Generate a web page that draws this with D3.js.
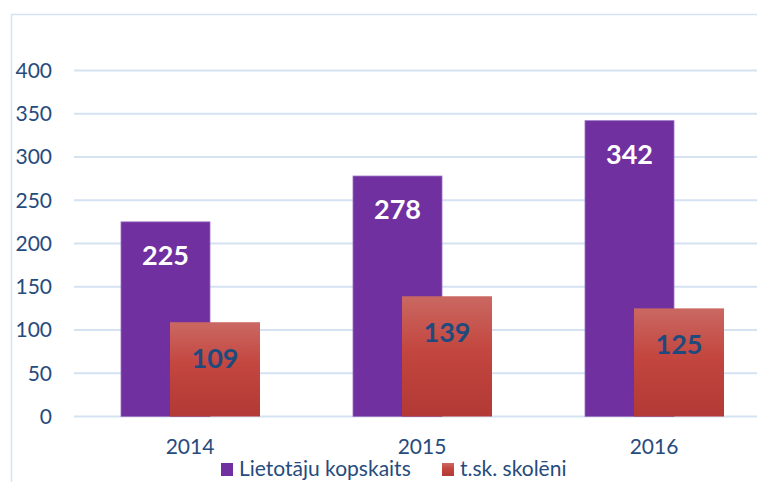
<!DOCTYPE html>
<meta charset="utf-8">
<style>
  body { margin: 0; background: #fff; }
  text { font-family: Lato, "Open Sans", sans-serif; }
</style>
<body>
<svg id="chart" width="757" height="482"></svg>
<script src="https://d3js.org/d3.v7.min.js"></script>
<script>
var years = ["2014", "2015", "2016"];
var total = [225, 278, 342];
var pupils = [109, 139, 125];
var seriesNames = ["Lietotāju kopskaits", "t.sk. skolēni"];
var yTicks = [0, 50, 100, 150, 200, 250, 300, 350, 400];

var svg = d3.select("#chart");
var textColor = "#264b7d";

// outer frame
svg.append("path")
  .attr("d", "M11.5,490 V14.5 H770")
  .attr("fill", "none")
  .attr("stroke", "#d5e2f2")
  .attr("stroke-width", 1.5);

var defs = svg.append("defs");
var grad = defs.append("linearGradient")
  .attr("id", "redGrad").attr("x1", 0).attr("y1", 0).attr("x2", 0).attr("y2", 1);
grad.append("stop").attr("offset", "0%").attr("stop-color", "#ca6862");
grad.append("stop").attr("offset", "45%").attr("stop-color", "#c3463f");
grad.append("stop").attr("offset", "100%").attr("stop-color", "#b23935");

var x = d3.scaleBand().domain(years).range([74, 770]);
var y = d3.scaleLinear().domain([0, 400]).range([416.5, 70.5]);

// gridlines
svg.append("g").selectAll("line")
  .data(yTicks)
  .enter().append("line")
  .attr("x1", 74).attr("x2", 757)
  .attr("y1", function (d) { return y(d); })
  .attr("y2", function (d) { return y(d); })
  .attr("stroke", "#d5e2f2")
  .attr("stroke-width", 2);

// y tick labels
svg.append("g").selectAll("text")
  .data(yTicks)
  .enter().append("text")
  .attr("x", 52)
  .attr("y", function (d) { return y(d); })
  .attr("dy", "0.35em")
  .attr("text-anchor", "end")
  .attr("fill", textColor)
  .style("font-size", "21px")
  .text(function (d) { return d; });

// x labels
svg.append("g").selectAll("text")
  .data(years)
  .enter().append("text")
  .attr("x", function (d) { return x(d) + x.bandwidth() / 2; })
  .attr("y", 447)
  .attr("dy", "0.35em")
  .attr("text-anchor", "middle")
  .attr("fill", textColor)
  .style("font-size", "21px")
  .text(function (d) { return d; });

var barW = 89;
var offs = 49;

// total bars
svg.append("g").selectAll("rect")
  .data(years)
  .enter().append("rect")
  .attr("x", function (d) { return x(d) + x.bandwidth() / 2 - 69; })
  .attr("y", function (d, i) { return y(total[i]); })
  .attr("width", barW)
  .attr("height", function (d, i) { return y(0) - y(total[i]); })
  .attr("fill", "#7030a0")
  .attr("stroke", "#9a6fc0")
  .attr("stroke-width", 0.8);

// pupils bars
svg.append("g").selectAll("rect")
  .data(years)
  .enter().append("rect")
  .attr("x", function (d) { return x(d) + x.bandwidth() / 2 - 69 + offs; })
  .attr("y", function (d, i) { return y(pupils[i]); })
  .attr("width", barW + 1)
  .attr("height", function (d, i) { return y(0) - y(pupils[i]); })
  .attr("fill", "url(#redGrad)");

// value labels
svg.append("g").selectAll("text")
  .data(years)
  .enter().append("text")
  .attr("x", function (d) { return x(d) + x.bandwidth() / 2 - 69 + barW / 2; })
  .attr("y", function (d, i) { return y(total[i]) + 34; })
  .attr("dy", "0.35em")
  .attr("text-anchor", "middle")
  .attr("fill", "#fff")
  .style("font-size", "27px")
  .style("font-weight", "bold")
  .text(function (d, i) { return total[i]; });

svg.append("g").selectAll("text")
  .data(years)
  .enter().append("text")
  .attr("x", function (d) { return x(d) + x.bandwidth() / 2 - 69 + offs + (barW + 1) / 2; })
  .attr("y", function (d, i) { return y(pupils[i]) + 36; })
  .attr("dy", "0.35em")
  .attr("text-anchor", "middle")
  .attr("fill", "#1f4a7c")
  .style("font-size", "27px")
  .style("font-weight", "bold")
  .text(function (d, i) { return pupils[i]; });

// legend
var legend = [
  { name: seriesNames[0], fill: "#7030a0", x: 221 },
  { name: seriesNames[1], fill: "url(#redGrad)", x: 442 }
];
var lg = svg.append("g").selectAll("g")
  .data(legend)
  .enter().append("g")
  .attr("transform", function (d) { return "translate(" + d.x + ",463)"; });
lg.append("rect")
  .attr("width", 12).attr("height", 13)
  .attr("fill", function (d) { return d.fill; });
lg.append("text")
  .attr("x", 18)
  .attr("y", 6)
  .attr("dy", "0.35em")
  .attr("fill", textColor)
  .style("font-size", "21px")
  .text(function (d) { return d.name; });
</script>
</body>
